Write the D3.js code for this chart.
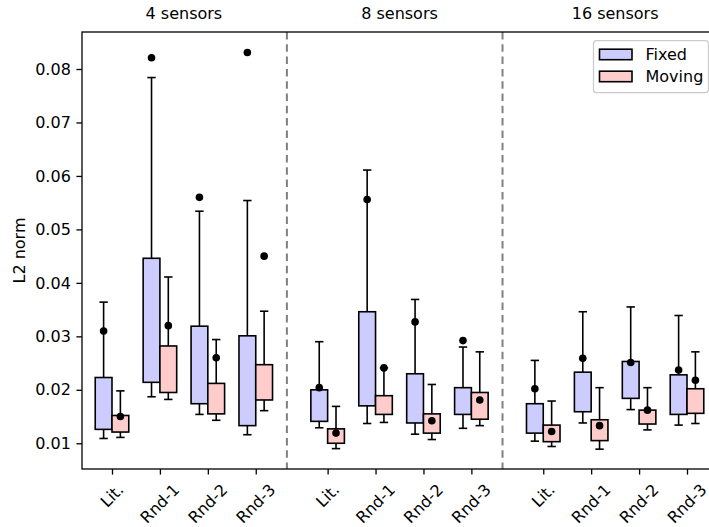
<!DOCTYPE html>
<html>
<head>
<meta charset="utf-8">
<script src="https://cdn.jsdelivr.net/npm/d3@7/dist/d3.min.js"></script>
<style>
  html, body { margin: 0; padding: 0; background: #fff; }
  svg { display: block; font-family: "DejaVu Sans", sans-serif; }
</style>
</head>
<body>
<svg id="chart" width="709" height="527"></svg>
<script>
// ---- data ----
const groups = ["4 sensors", "8 sensors", "16 sensors"];
const categories = ["Lit.", "Rnd-1", "Rnd-2", "Rnd-3"];
const seriesNames = ["Fixed", "Moving"];
const yTicks = [0.01, 0.02, 0.03, 0.04, 0.05, 0.06, 0.07, 0.08];

// order: group 4 (Lit., Rnd-1, Rnd-2, Rnd-3), group 8 (...), group 16 (...)
const fixedLo  = [0.0109, 0.0187, 0.0154, 0.0116, 0.0129, 0.0137, 0.0117, 0.0128, 0.0104, 0.0138, 0.0163, 0.0134];
const fixedQ1  = [0.0126, 0.0214, 0.0174, 0.0133, 0.0141, 0.0170, 0.0138, 0.0154, 0.0119, 0.0159, 0.0184, 0.0154];
const fixedQ3  = [0.0223, 0.0446, 0.0319, 0.0301, 0.0200, 0.0346, 0.0230, 0.0204, 0.0174, 0.0233, 0.0253, 0.0228];
const fixedHi  = [0.0364, 0.0784, 0.0534, 0.0554, 0.0290, 0.0611, 0.0369, 0.0280, 0.0255, 0.0346, 0.0355, 0.0339];
const fixedDot = [0.0310, 0.0821, 0.0560, 0.0831, 0.0204, 0.0556, 0.0327, 0.0292, 0.0202, 0.0259, 0.0251, 0.0237];

const movingLo  = [0.0111, 0.0182, 0.0143, 0.0161, 0.0090, 0.0139, 0.0107, 0.0133, 0.0094, 0.0089, 0.0125, 0.0137];
const movingQ1  = [0.0121, 0.0195, 0.0155, 0.0181, 0.0100, 0.0154, 0.0119, 0.0145, 0.0103, 0.0105, 0.0136, 0.0156];
const movingQ3  = [0.0152, 0.0282, 0.0212, 0.0247, 0.0127, 0.0189, 0.0155, 0.0195, 0.0134, 0.0144, 0.0162, 0.0202];
const movingHi  = [0.0198, 0.0411, 0.0294, 0.0347, 0.0169, 0.0241, 0.0210, 0.0271, 0.0179, 0.0204, 0.0204, 0.0271];
const movingDot = [0.0150, 0.0320, 0.0260, 0.0450, 0.0119, 0.0241, 0.0142, 0.0181, 0.0122, 0.0133, 0.0162, 0.0218];

// ---- layout ----
const svg = d3.select("#chart");
const L = 82, T = 32, R = 717, B = 469;
const groupStep = 4.5;
const boxW = 0.35;
const colors = { Fixed: "#ccccff", Moving: "#ffcccc" };
const FS = 16;

const x = d3.scaleLinear().domain([-0.626, 12.626]).range([L, R]);
const y = d3.scaleLinear().domain([0.00519, 0.08692]).range([B, T]);

const pos = (g, c) => g * groupStep + c;

// build records
const records = [];
groups.forEach((g, gi) => {
  categories.forEach((c, ci) => {
    const i = gi * categories.length + ci;
    records.push({ series: "Fixed", gi, ci, center: pos(gi, ci) - boxW / 2,
      lo: fixedLo[i], q1: fixedQ1[i], q3: fixedQ3[i], hi: fixedHi[i], dot: fixedDot[i] });
    records.push({ series: "Moving", gi, ci, center: pos(gi, ci) + boxW / 2,
      lo: movingLo[i], q1: movingQ1[i], q3: movingQ3[i], hi: movingHi[i], dot: movingDot[i] });
  });
});

const plot = svg.append("g");

// dashed separators
[0, 1].forEach(gi => {
  const xv = gi * groupStep + 3.65;
  plot.append("line")
    .attr("x1", x(xv)).attr("x2", x(xv))
    .attr("y1", T).attr("y2", B)
    .attr("stroke", "#808080").attr("stroke-width", 2)
    .attr("stroke-dasharray", "7.5,4.8");
});

// boxes
const bx = plot.selectAll("g.box").data(records).enter().append("g").attr("class", "box");
const pxW = x(boxW) - x(0);
const capW = pxW / 2;

// whiskers
bx.append("line")
  .attr("x1", d => x(d.center)).attr("x2", d => x(d.center))
  .attr("y1", d => y(d.q3)).attr("y2", d => y(d.hi))
  .attr("stroke", "#000").attr("stroke-width", 1.6);
bx.append("line")
  .attr("x1", d => x(d.center)).attr("x2", d => x(d.center))
  .attr("y1", d => y(d.q1)).attr("y2", d => y(d.lo))
  .attr("stroke", "#000").attr("stroke-width", 1.6);
// caps
bx.append("line")
  .attr("x1", d => x(d.center) - capW / 2).attr("x2", d => x(d.center) + capW / 2)
  .attr("y1", d => y(d.hi)).attr("y2", d => y(d.hi))
  .attr("stroke", "#000").attr("stroke-width", 1.6);
bx.append("line")
  .attr("x1", d => x(d.center) - capW / 2).attr("x2", d => x(d.center) + capW / 2)
  .attr("y1", d => y(d.lo)).attr("y2", d => y(d.lo))
  .attr("stroke", "#000").attr("stroke-width", 1.6);
// box rect
bx.append("rect")
  .attr("x", d => x(d.center - boxW / 2))
  .attr("width", pxW)
  .attr("y", d => y(d.q3))
  .attr("height", d => y(d.q1) - y(d.q3))
  .attr("fill", d => colors[d.series])
  .attr("stroke", "#000").attr("stroke-width", 1.6);
// dots
bx.append("circle")
  .attr("cx", d => x(d.center)).attr("cy", d => y(d.dot))
  .attr("r", 3.8).attr("fill", "#000");

// frame (right spine lies beyond the visible area)
svg.append("rect")
  .attr("x", L).attr("y", T).attr("width", R - L).attr("height", B - T)
  .attr("fill", "none").attr("stroke", "#000").attr("stroke-width", 1.3);

// y axis
const yAxis = svg.append("g")
  .attr("transform", `translate(${L},0)`)
  .call(d3.axisLeft(y).tickValues(yTicks).tickFormat(d3.format(".2f")).tickSize(5.6).tickPadding(5.6));
yAxis.select(".domain").remove();
yAxis.selectAll(".tick line").attr("stroke", "#000").attr("stroke-width", 1.3);
yAxis.selectAll(".tick text").attr("font-size", FS).attr("fill", "#000")
  .attr("font-family", "DejaVu Sans");

// x ticks
const xTickData = [];
groups.forEach((g, gi) => categories.forEach((c, ci) => xTickData.push({ label: c, v: pos(gi, ci) })));
const xAxis = svg.append("g")
  .attr("transform", `translate(0,${B})`)
  .call(d3.axisBottom(x).tickValues(xTickData.map(d => d.v)).tickFormat("").tickSize(5.6));
xAxis.select(".domain").remove();
xAxis.selectAll(".tick line").attr("stroke", "#000").attr("stroke-width", 1.3);

// rotated x tick labels, bbox centered on tick
const labelTop = B + 5.6 + 5.6;
xTickData.forEach(d => {
  const t = svg.append("text")
    .attr("font-size", FS).attr("fill", "#000")
    .attr("text-anchor", "middle")
    .attr("dominant-baseline", "central")
    .text(d.label);
  const w = t.node().getComputedTextLength();
  const h = FS * 1.164;
  const half = (w + h) * Math.SQRT1_2 / 2;
  t.attr("transform", `translate(${x(d.v)},${labelTop + half}) rotate(-45)`);
});

// group titles
groups.forEach((g, gi) => {
  svg.append("text")
    .attr("x", x(pos(gi, 1.5))).attr("y", 18.5)
    .attr("text-anchor", "middle")
    .attr("font-size", FS).attr("fill", "#000")
    .text(g);
});

// y label
svg.append("text")
  .attr("transform", `translate(25,${(T + B) / 2}) rotate(-90)`)
  .attr("text-anchor", "middle")
  .attr("font-size", FS).attr("fill", "#000")
  .text("L2 norm");

// legend
const lg = svg.append("g");
lg.append("rect")
  .attr("x", 593.5).attr("y", 40.7).attr("width", 115).attr("height", 52)
  .attr("rx", 3).attr("ry", 3)
  .attr("fill", "#fff").attr("fill-opacity", 0.8)
  .attr("stroke", "#cccccc").attr("stroke-width", 1.3);
seriesNames.forEach((s, i) => {
  const yy = 49.2 + i * 22;
  lg.append("rect")
    .attr("x", 599.5).attr("y", yy).attr("width", 32.5).attr("height", 10.5)
    .attr("fill", colors[s]).attr("stroke", "#000").attr("stroke-width", 1.6);
  lg.append("text")
    .attr("x", 645.5).attr("y", yy + 5.5)
    .attr("dominant-baseline", "central")
    .attr("font-size", FS).attr("fill", "#000")
    .text(s);
});
</script>
</body>
</html>
